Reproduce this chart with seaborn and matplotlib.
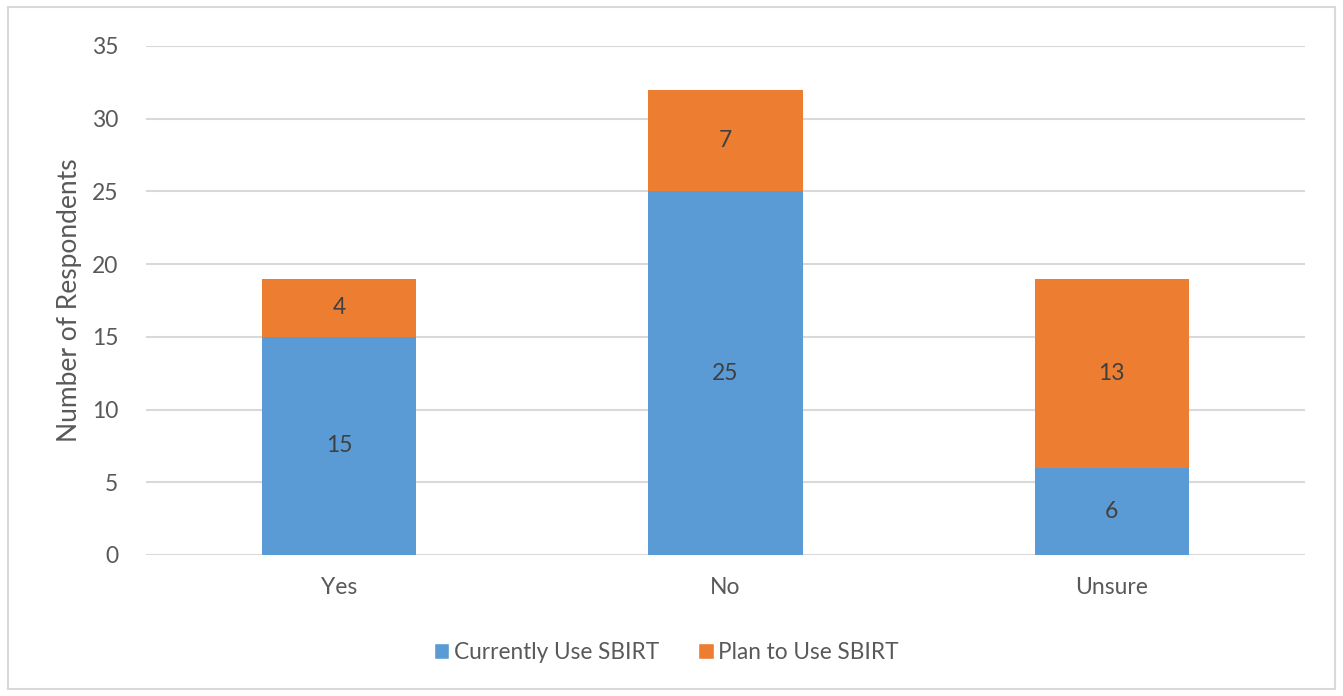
import matplotlib
matplotlib.use("Agg")
import matplotlib.pyplot as plt
import seaborn as sns
import pandas as pd
from matplotlib.patches import Rectangle, Patch

categories = ["Yes", "No", "Unsure"]
currently_use = [15, 25, 6]
plan_to_use = [4, 7, 13]
series_names = ["Currently Use SBIRT", "Plan to Use SBIRT"]
y_ticks = [0, 5, 10, 15, 20, 25, 30, 35]

BLUE = "#5B9BD5"
ORANGE = "#ED7D31"
TEXT = "#595959"
GRID = "#D9D9D9"

sns.set_theme(style="white")
plt.rcParams["font.family"] = ["Lato", "DejaVu Sans"]

df = pd.DataFrame({
    "category": categories,
    "current": currently_use,
    "plan": plan_to_use,
})
df["total"] = df["current"] + df["plan"]

fig = plt.figure(figsize=(13.43, 6.96), dpi=100)
ax = fig.add_axes([0.1087, 0.2026, 0.8630, 0.7314])

# stacked bars: full height in orange, lower part in blue
sns.barplot(data=df, x="category", y="total", color=ORANGE, width=0.4,
            saturation=1, linewidth=0, ax=ax, zorder=3)
sns.barplot(data=df, x="category", y="current", color=BLUE, width=0.4,
            saturation=1, linewidth=0, ax=ax, zorder=3)

for i, (c, p) in enumerate(zip(currently_use, plan_to_use)):
    ax.text(i, c / 2, str(c), ha="center", va="center", fontsize=16.5,
            color="#404040", zorder=4)
    ax.text(i, c + p / 2, str(p), ha="center", va="center", fontsize=16.5,
            color="#404040", zorder=4)

ax.set_ylim(0, 35)
ax.set_xlim(-0.5, 2.5)
ax.set_yticks(y_ticks)
ax.set_yticklabels([str(t) for t in y_ticks])
ax.yaxis.grid(True, color=GRID, linewidth=1.5, zorder=0)
ax.set_axisbelow(True)
for s in ax.spines.values():
    s.set_visible(False)
ax.tick_params(axis="both", length=0, labelsize=16.5, labelcolor=TEXT)
ax.tick_params(axis="y", pad=20)
ax.tick_params(axis="x", pad=16)
ax.set_xlabel("")
ax.set_ylabel("Number of Respondents", fontsize=19, color=TEXT, labelpad=7)

handles = [Patch(facecolor=BLUE), Patch(facecolor=ORANGE)]
fig.legend(handles, series_names, loc="center", bbox_to_anchor=(0.496, 0.063),
           ncol=2, frameon=False, fontsize=16.3, labelcolor=TEXT,
           handlelength=0.7, handleheight=0.7, handletextpad=0.2,
           columnspacing=1.7)

fig.patches.append(Rectangle((0.006, 0.01), 0.988, 0.98, transform=fig.transFigure,
                             fill=False, edgecolor="#D9D9D9", linewidth=1.5))

fig.savefig("out.png", dpi=100)
